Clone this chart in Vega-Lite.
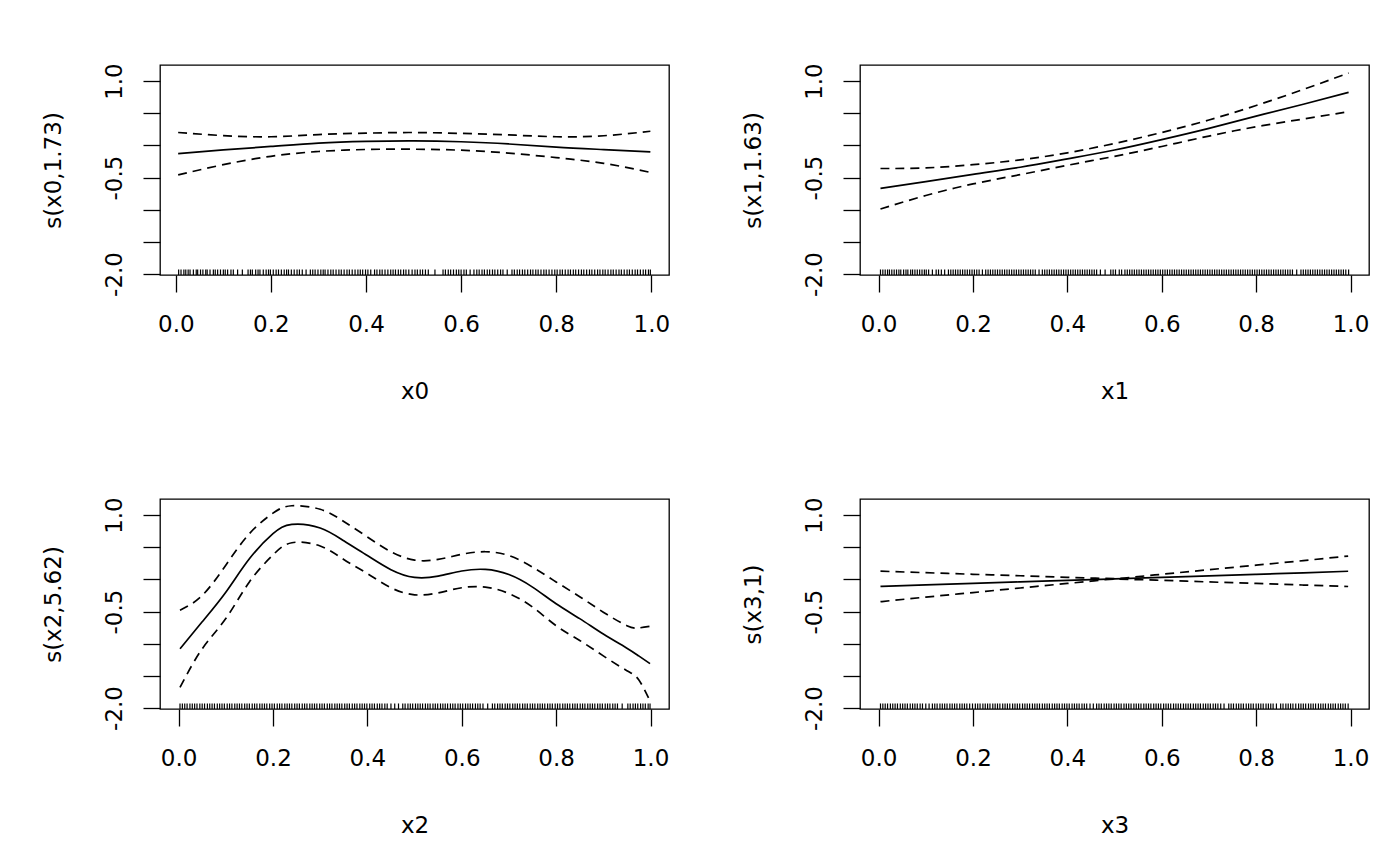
{
  "$schema": "https://vega.github.io/schema/vega-lite/v6.json",
  "background": "white",
  "padding": {"left": 41, "top": 62, "right": 10, "bottom": 10},
  "datasets": {
    "c0": [
      {"x": 0.005, "fit": -0.127, "up": 0.2, "lo": -0.46},
      {"x": 0.1, "fit": -0.07, "up": 0.152, "lo": -0.3},
      {"x": 0.2, "fit": -0.017, "up": 0.134, "lo": -0.17},
      {"x": 0.3, "fit": 0.035, "up": 0.168, "lo": -0.095},
      {"x": 0.4, "fit": 0.062, "up": 0.19, "lo": -0.064},
      {"x": 0.5, "fit": 0.07, "up": 0.2, "lo": -0.06},
      {"x": 0.6, "fit": 0.056, "up": 0.186, "lo": -0.075},
      {"x": 0.7, "fit": 0.022, "up": 0.163, "lo": -0.12},
      {"x": 0.8, "fit": -0.028, "up": 0.134, "lo": -0.19},
      {"x": 0.9, "fit": -0.065, "up": 0.15, "lo": -0.28},
      {"x": 0.998, "fit": -0.1, "up": 0.22, "lo": -0.42}
    ],
    "c1": [
      {"x": 0.004, "fit": -0.67, "up": -0.36, "lo": -0.99},
      {"x": 0.1, "fit": -0.565, "up": -0.35, "lo": -0.78},
      {"x": 0.2, "fit": -0.45, "up": -0.3, "lo": -0.6},
      {"x": 0.3, "fit": -0.34, "up": -0.226, "lo": -0.455},
      {"x": 0.4, "fit": -0.21, "up": -0.116, "lo": -0.31},
      {"x": 0.5, "fit": -0.072, "up": 0.03, "lo": -0.17},
      {"x": 0.6, "fit": 0.09, "up": 0.2, "lo": -0.017},
      {"x": 0.7, "fit": 0.265, "up": 0.395, "lo": 0.145},
      {"x": 0.8, "fit": 0.455, "up": 0.62, "lo": 0.29},
      {"x": 0.9, "fit": 0.64, "up": 0.87, "lo": 0.41},
      {"x": 0.996, "fit": 0.825, "up": 1.125, "lo": 0.525}
    ],
    "c2": [
      {"x": 0.003, "fit": -1.08, "up": -0.48, "lo": -1.68},
      {"x": 0.05, "fit": -0.66, "up": -0.25, "lo": -1.08},
      {"x": 0.1, "fit": -0.2, "up": 0.22, "lo": -0.61},
      {"x": 0.15, "fit": 0.32, "up": 0.71, "lo": -0.04},
      {"x": 0.2, "fit": 0.71, "up": 1.03, "lo": 0.38},
      {"x": 0.24, "fit": 0.855, "up": 1.145, "lo": 0.57},
      {"x": 0.3, "fit": 0.8, "up": 1.09, "lo": 0.52},
      {"x": 0.35, "fit": 0.6, "up": 0.9, "lo": 0.31},
      {"x": 0.4, "fit": 0.37, "up": 0.66, "lo": 0.09},
      {"x": 0.45, "fit": 0.15, "up": 0.43, "lo": -0.13},
      {"x": 0.5, "fit": 0.03, "up": 0.3, "lo": -0.24},
      {"x": 0.55, "fit": 0.05, "up": 0.31, "lo": -0.21},
      {"x": 0.6, "fit": 0.13, "up": 0.39, "lo": -0.13},
      {"x": 0.65, "fit": 0.155, "up": 0.43, "lo": -0.12},
      {"x": 0.7, "fit": 0.075, "up": 0.37, "lo": -0.22},
      {"x": 0.75, "fit": -0.12, "up": 0.19, "lo": -0.43},
      {"x": 0.8, "fit": -0.38, "up": -0.04, "lo": -0.72},
      {"x": 0.85, "fit": -0.61, "up": -0.27, "lo": -0.95},
      {"x": 0.9, "fit": -0.85, "up": -0.51, "lo": -1.19},
      {"x": 0.95, "fit": -1.07, "up": -0.72, "lo": -1.42},
      {"x": 0.975, "fit": -1.19, "up": -0.755, "lo": -1.56},
      {"x": 0.999, "fit": -1.31, "up": -0.73, "lo": -1.89}
    ],
    "c3": [
      {"x": 0.004, "fit": -0.11, "up": 0.127, "lo": -0.347},
      {"x": 0.1, "fit": -0.086, "up": 0.104, "lo": -0.276},
      {"x": 0.2, "fit": -0.063, "up": 0.079, "lo": -0.205},
      {"x": 0.3, "fit": -0.039, "up": 0.056, "lo": -0.134},
      {"x": 0.4, "fit": -0.016, "up": 0.031, "lo": -0.063},
      {"x": 0.45, "fit": -0.004, "up": 0.02, "lo": -0.028},
      {"x": 0.5, "fit": 0.008, "up": 0.013, "lo": 0.003},
      {"x": 0.55, "fit": 0.02, "up": 0.044, "lo": -0.004},
      {"x": 0.6, "fit": 0.032, "up": 0.079, "lo": -0.015},
      {"x": 0.7, "fit": 0.055, "up": 0.15, "lo": -0.04},
      {"x": 0.8, "fit": 0.079, "up": 0.221, "lo": -0.063},
      {"x": 0.9, "fit": 0.102, "up": 0.292, "lo": -0.088},
      {"x": 0.995, "fit": 0.126, "up": 0.363, "lo": -0.111}
    ],
    "r0": [
      {"x":0.006},{"x":0.011},{"x":0.017},{"x":0.021},{"x":0.026},{"x":0.03},{"x":0.037},{"x":0.043},{"x":0.046},{"x":0.052},{"x":0.057},{"x":0.063},{"x":0.066},{"x":0.072},{"x":0.079},{"x":0.083},{"x":0.088},{"x":0.094},{"x":0.1},{"x":0.104},{"x":0.109},{"x":0.116},{"x":0.121},{"x":0.13},{"x":0.14},{"x":0.152},{"x":0.157},{"x":0.161},{"x":0.168},{"x":0.173},{"x":0.177},{"x":0.184},{"x":0.19},{"x":0.195},{"x":0.199},{"x":0.205},{"x":0.211},{"x":0.216},{"x":0.222},{"x":0.228},{"x":0.233},{"x":0.237},{"x":0.243},{"x":0.249},{"x":0.255},{"x":0.26},{"x":0.266},{"x":0.274},{"x":0.283},{"x":0.288},{"x":0.293},{"x":0.299},{"x":0.305},{"x":0.31},{"x":0.314},{"x":0.32},{"x":0.326},{"x":0.331},{"x":0.337},{"x":0.343},{"x":0.348},{"x":0.354},{"x":0.36},{"x":0.365},{"x":0.371},{"x":0.377},{"x":0.383},{"x":0.388},{"x":0.393},{"x":0.399},{"x":0.404},{"x":0.41},{"x":0.418},{"x":0.423},{"x":0.429},{"x":0.434},{"x":0.44},{"x":0.446},{"x":0.452},{"x":0.457},{"x":0.462},{"x":0.468},{"x":0.473},{"x":0.479},{"x":0.484},{"x":0.49},{"x":0.497},{"x":0.503},{"x":0.508},{"x":0.514},{"x":0.519},{"x":0.525},{"x":0.531},{"x":0.545},{"x":0.562},{"x":0.567},{"x":0.573},{"x":0.578},{"x":0.584},{"x":0.59},{"x":0.595},{"x":0.6},{"x":0.606},{"x":0.611},{"x":0.619},{"x":0.627},{"x":0.633},{"x":0.638},{"x":0.644},{"x":0.649},{"x":0.655},{"x":0.66},{"x":0.666},{"x":0.671},{"x":0.677},{"x":0.683},{"x":0.688},{"x":0.697},{"x":0.707},{"x":0.712},{"x":0.718},{"x":0.723},{"x":0.729},{"x":0.734},{"x":0.74},{"x":0.746},{"x":0.751},{"x":0.757},{"x":0.762},{"x":0.768},{"x":0.774},{"x":0.779},{"x":0.785},{"x":0.791},{"x":0.797},{"x":0.802},{"x":0.808},{"x":0.813},{"x":0.819},{"x":0.825},{"x":0.83},{"x":0.836},{"x":0.841},{"x":0.847},{"x":0.853},{"x":0.858},{"x":0.864},{"x":0.87},{"x":0.875},{"x":0.881},{"x":0.887},{"x":0.892},{"x":0.898},{"x":0.903},{"x":0.909},{"x":0.915},{"x":0.92},{"x":0.926},{"x":0.932},{"x":0.937},{"x":0.943},{"x":0.949},{"x":0.954},{"x":0.96},{"x":0.966},{"x":0.971},{"x":0.977},{"x":0.983},{"x":0.988},{"x":0.994},{"x":0.998}
    ],
    "r1": [
      {"x":0.004},{"x":0.009},{"x":0.014},{"x":0.019},{"x":0.023},{"x":0.028},{"x":0.033},{"x":0.038},{"x":0.043},{"x":0.047},{"x":0.053},{"x":0.058},{"x":0.062},{"x":0.068},{"x":0.072},{"x":0.077},{"x":0.082},{"x":0.087},{"x":0.092},{"x":0.097},{"x":0.101},{"x":0.106},{"x":0.114},{"x":0.122},{"x":0.127},{"x":0.133},{"x":0.14},{"x":0.148},{"x":0.153},{"x":0.158},{"x":0.163},{"x":0.168},{"x":0.173},{"x":0.178},{"x":0.183},{"x":0.188},{"x":0.193},{"x":0.198},{"x":0.203},{"x":0.208},{"x":0.213},{"x":0.22},{"x":0.227},{"x":0.232},{"x":0.237},{"x":0.242},{"x":0.247},{"x":0.252},{"x":0.257},{"x":0.262},{"x":0.267},{"x":0.272},{"x":0.277},{"x":0.282},{"x":0.287},{"x":0.292},{"x":0.297},{"x":0.302},{"x":0.307},{"x":0.312},{"x":0.317},{"x":0.322},{"x":0.327},{"x":0.332},{"x":0.34},{"x":0.347},{"x":0.352},{"x":0.357},{"x":0.362},{"x":0.367},{"x":0.372},{"x":0.377},{"x":0.382},{"x":0.387},{"x":0.392},{"x":0.397},{"x":0.402},{"x":0.407},{"x":0.412},{"x":0.417},{"x":0.422},{"x":0.427},{"x":0.432},{"x":0.437},{"x":0.442},{"x":0.447},{"x":0.452},{"x":0.457},{"x":0.462},{"x":0.47},{"x":0.48},{"x":0.492},{"x":0.497},{"x":0.502},{"x":0.51},{"x":0.515},{"x":0.522},{"x":0.527},{"x":0.532},{"x":0.537},{"x":0.542},{"x":0.547},{"x":0.552},{"x":0.557},{"x":0.562},{"x":0.567},{"x":0.572},{"x":0.577},{"x":0.582},{"x":0.587},{"x":0.592},{"x":0.597},{"x":0.602},{"x":0.607},{"x":0.612},{"x":0.617},{"x":0.622},{"x":0.627},{"x":0.632},{"x":0.637},{"x":0.642},{"x":0.647},{"x":0.652},{"x":0.657},{"x":0.662},{"x":0.667},{"x":0.672},{"x":0.677},{"x":0.682},{"x":0.687},{"x":0.692},{"x":0.697},{"x":0.702},{"x":0.707},{"x":0.712},{"x":0.717},{"x":0.722},{"x":0.727},{"x":0.732},{"x":0.737},{"x":0.742},{"x":0.747},{"x":0.752},{"x":0.757},{"x":0.762},{"x":0.767},{"x":0.772},{"x":0.777},{"x":0.782},{"x":0.787},{"x":0.792},{"x":0.797},{"x":0.802},{"x":0.807},{"x":0.812},{"x":0.817},{"x":0.822},{"x":0.827},{"x":0.832},{"x":0.837},{"x":0.842},{"x":0.847},{"x":0.852},{"x":0.857},{"x":0.862},{"x":0.867},{"x":0.872},{"x":0.877},{"x":0.886},{"x":0.895},{"x":0.9},{"x":0.905},{"x":0.91},{"x":0.915},{"x":0.92},{"x":0.925},{"x":0.93},{"x":0.935},{"x":0.94},{"x":0.945},{"x":0.95},{"x":0.955},{"x":0.96},{"x":0.965},{"x":0.97},{"x":0.975},{"x":0.98},{"x":0.985},{"x":0.99},{"x":0.996}
    ],
    "r2": [
      {"x":0.003},{"x":0.008},{"x":0.013},{"x":0.018},{"x":0.024},{"x":0.029},{"x":0.034},{"x":0.039},{"x":0.045},{"x":0.05},{"x":0.055},{"x":0.061},{"x":0.066},{"x":0.071},{"x":0.076},{"x":0.082},{"x":0.087},{"x":0.092},{"x":0.097},{"x":0.103},{"x":0.108},{"x":0.113},{"x":0.119},{"x":0.124},{"x":0.129},{"x":0.134},{"x":0.14},{"x":0.145},{"x":0.15},{"x":0.156},{"x":0.161},{"x":0.166},{"x":0.172},{"x":0.177},{"x":0.182},{"x":0.187},{"x":0.193},{"x":0.198},{"x":0.203},{"x":0.209},{"x":0.214},{"x":0.219},{"x":0.225},{"x":0.23},{"x":0.235},{"x":0.24},{"x":0.246},{"x":0.251},{"x":0.256},{"x":0.262},{"x":0.267},{"x":0.272},{"x":0.278},{"x":0.283},{"x":0.288},{"x":0.293},{"x":0.299},{"x":0.304},{"x":0.309},{"x":0.315},{"x":0.32},{"x":0.325},{"x":0.331},{"x":0.336},{"x":0.341},{"x":0.346},{"x":0.352},{"x":0.357},{"x":0.362},{"x":0.368},{"x":0.373},{"x":0.378},{"x":0.384},{"x":0.389},{"x":0.394},{"x":0.399},{"x":0.405},{"x":0.41},{"x":0.415},{"x":0.421},{"x":0.426},{"x":0.431},{"x":0.437},{"x":0.442},{"x":0.45},{"x":0.458},{"x":0.466},{"x":0.475},{"x":0.48},{"x":0.486},{"x":0.491},{"x":0.496},{"x":0.502},{"x":0.507},{"x":0.512},{"x":0.517},{"x":0.523},{"x":0.528},{"x":0.533},{"x":0.539},{"x":0.544},{"x":0.549},{"x":0.555},{"x":0.56},{"x":0.565},{"x":0.57},{"x":0.576},{"x":0.581},{"x":0.586},{"x":0.592},{"x":0.597},{"x":0.602},{"x":0.608},{"x":0.613},{"x":0.618},{"x":0.623},{"x":0.629},{"x":0.634},{"x":0.639},{"x":0.645},{"x":0.655},{"x":0.665},{"x":0.67},{"x":0.676},{"x":0.681},{"x":0.686},{"x":0.692},{"x":0.697},{"x":0.702},{"x":0.708},{"x":0.713},{"x":0.718},{"x":0.723},{"x":0.729},{"x":0.734},{"x":0.739},{"x":0.745},{"x":0.75},{"x":0.755},{"x":0.761},{"x":0.766},{"x":0.771},{"x":0.776},{"x":0.782},{"x":0.787},{"x":0.792},{"x":0.798},{"x":0.803},{"x":0.808},{"x":0.814},{"x":0.819},{"x":0.824},{"x":0.829},{"x":0.835},{"x":0.84},{"x":0.845},{"x":0.851},{"x":0.856},{"x":0.861},{"x":0.867},{"x":0.872},{"x":0.877},{"x":0.882},{"x":0.888},{"x":0.893},{"x":0.898},{"x":0.904},{"x":0.909},{"x":0.914},{"x":0.92},{"x":0.925},{"x":0.93},{"x":0.94},{"x":0.952},{"x":0.957},{"x":0.963},{"x":0.968},{"x":0.973},{"x":0.979},{"x":0.984},{"x":0.989},{"x":0.995},{"x":0.999}
    ],
    "r3": [
      {"x":0.004},{"x":0.009},{"x":0.014},{"x":0.019},{"x":0.025},{"x":0.03},{"x":0.035},{"x":0.04},{"x":0.046},{"x":0.051},{"x":0.056},{"x":0.061},{"x":0.067},{"x":0.072},{"x":0.077},{"x":0.082},{"x":0.088},{"x":0.093},{"x":0.1},{"x":0.107},{"x":0.114},{"x":0.119},{"x":0.124},{"x":0.13},{"x":0.135},{"x":0.14},{"x":0.145},{"x":0.151},{"x":0.156},{"x":0.161},{"x":0.166},{"x":0.172},{"x":0.177},{"x":0.182},{"x":0.187},{"x":0.193},{"x":0.199},{"x":0.205},{"x":0.21},{"x":0.215},{"x":0.221},{"x":0.226},{"x":0.231},{"x":0.236},{"x":0.242},{"x":0.247},{"x":0.252},{"x":0.257},{"x":0.263},{"x":0.268},{"x":0.273},{"x":0.278},{"x":0.284},{"x":0.289},{"x":0.294},{"x":0.299},{"x":0.305},{"x":0.31},{"x":0.315},{"x":0.32},{"x":0.326},{"x":0.331},{"x":0.336},{"x":0.341},{"x":0.347},{"x":0.352},{"x":0.357},{"x":0.362},{"x":0.368},{"x":0.373},{"x":0.378},{"x":0.383},{"x":0.389},{"x":0.394},{"x":0.399},{"x":0.404},{"x":0.41},{"x":0.415},{"x":0.42},{"x":0.425},{"x":0.431},{"x":0.436},{"x":0.441},{"x":0.448},{"x":0.455},{"x":0.462},{"x":0.467},{"x":0.472},{"x":0.478},{"x":0.483},{"x":0.488},{"x":0.493},{"x":0.499},{"x":0.504},{"x":0.509},{"x":0.514},{"x":0.52},{"x":0.525},{"x":0.53},{"x":0.535},{"x":0.541},{"x":0.546},{"x":0.551},{"x":0.556},{"x":0.562},{"x":0.567},{"x":0.572},{"x":0.577},{"x":0.583},{"x":0.588},{"x":0.593},{"x":0.598},{"x":0.604},{"x":0.609},{"x":0.614},{"x":0.619},{"x":0.625},{"x":0.63},{"x":0.635},{"x":0.64},{"x":0.646},{"x":0.651},{"x":0.656},{"x":0.661},{"x":0.667},{"x":0.672},{"x":0.677},{"x":0.682},{"x":0.688},{"x":0.693},{"x":0.698},{"x":0.703},{"x":0.709},{"x":0.714},{"x":0.719},{"x":0.725},{"x":0.732},{"x":0.742},{"x":0.747},{"x":0.752},{"x":0.758},{"x":0.763},{"x":0.768},{"x":0.773},{"x":0.779},{"x":0.784},{"x":0.789},{"x":0.794},{"x":0.8},{"x":0.805},{"x":0.81},{"x":0.815},{"x":0.821},{"x":0.826},{"x":0.831},{"x":0.836},{"x":0.843},{"x":0.852},{"x":0.857},{"x":0.863},{"x":0.868},{"x":0.873},{"x":0.878},{"x":0.884},{"x":0.89},{"x":0.895},{"x":0.9},{"x":0.905},{"x":0.911},{"x":0.916},{"x":0.921},{"x":0.926},{"x":0.932},{"x":0.937},{"x":0.942},{"x":0.947},{"x":0.953},{"x":0.958},{"x":0.963},{"x":0.968},{"x":0.974},{"x":0.979},{"x":0.984},{"x":0.989},{"x":0.995}
    ]
  },
  "columns": 2,
  "spacing": {"row": 224, "column": 191},
  "bounds": "flush",
  "concat": [
    {
      "width": 509,
      "height": 210,
      "encoding": {
        "x": {"field": "x", "type": "quantitative", "title": "x0",
          "scale": {"domain": [-0.0332, 1.0372], "nice": false, "zero": false},
          "axis": {"values": [0, 0.2, 0.4, 0.6, 0.8, 1], "format": ".1f"}}
      },
      "layer": [
        {"data": {"name": "c0"},
          "mark": {"type": "line", "interpolate": "natural", "color": "black", "strokeWidth": 1.7},
          "encoding": {"y": {"field": "fit", "type": "quantitative", "title": "s(x0,1.73)",
            "scale": {"domain": [-2.016, 1.25], "nice": false, "zero": false},
            "axis": {"values": [-2, -1.5, -1, -0.5, 0, 0.5, 1], "labelExpr": "datum.value == 1 ? '1.0' : datum.value == -0.5 ? '-0.5' : datum.value == -2 ? '-2.0' : ''"}}}},
        {"data": {"name": "c0"},
          "mark": {"type": "line", "interpolate": "natural", "color": "black", "strokeWidth": 1.7, "strokeDash": [9, 6]},
          "encoding": {"y": {"field": "up", "type": "quantitative", "title": "s(x0,1.73)",
            "axis": {"values": [-2, -1.5, -1, -0.5, 0, 0.5, 1], "labelExpr": "datum.value == 1 ? '1.0' : datum.value == -0.5 ? '-0.5' : datum.value == -2 ? '-2.0' : ''"}}}},
        {"data": {"name": "c0"},
          "mark": {"type": "line", "interpolate": "natural", "color": "black", "strokeWidth": 1.7, "strokeDash": [9, 6]},
          "encoding": {"y": {"field": "lo", "type": "quantitative", "title": "s(x0,1.73)",
            "axis": {"values": [-2, -1.5, -1, -0.5, 0, 0.5, 1], "labelExpr": "datum.value == 1 ? '1.0' : datum.value == -0.5 ? '-0.5' : datum.value == -2 ? '-2.0' : ''"}}}},
        {"data": {"name": "r0"},
          "mark": {"type": "rule", "color": "black", "strokeWidth": 1.2},
          "encoding": {"y": {"datum": -2.016, "title": "s(x0,1.73)",
            "axis": {"values": [-2, -1.5, -1, -0.5, 0, 0.5, 1], "labelExpr": "datum.value == 1 ? '1.0' : datum.value == -0.5 ? '-0.5' : datum.value == -2 ? '-2.0' : ''"}},
            "y2": {"datum": -1.93}}}
      ]
    },
    {
      "width": 509,
      "height": 210,
      "encoding": {
        "x": {"field": "x", "type": "quantitative", "title": "x1",
          "scale": {"domain": [-0.0394, 1.0392], "nice": false, "zero": false},
          "axis": {"values": [0, 0.2, 0.4, 0.6, 0.8, 1], "format": ".1f"}}
      },
      "layer": [
        {"data": {"name": "c1"},
          "mark": {"type": "line", "interpolate": "natural", "color": "black", "strokeWidth": 1.7},
          "encoding": {"y": {"field": "fit", "type": "quantitative", "title": "s(x1,1.63)",
            "scale": {"domain": [-2.016, 1.25], "nice": false, "zero": false},
            "axis": {"values": [-2, -1.5, -1, -0.5, 0, 0.5, 1], "labelExpr": "datum.value == 1 ? '1.0' : datum.value == -0.5 ? '-0.5' : datum.value == -2 ? '-2.0' : ''"}}}},
        {"data": {"name": "c1"},
          "mark": {"type": "line", "interpolate": "natural", "color": "black", "strokeWidth": 1.7, "strokeDash": [9, 6]},
          "encoding": {"y": {"field": "up", "type": "quantitative", "title": "s(x1,1.63)",
            "axis": {"values": [-2, -1.5, -1, -0.5, 0, 0.5, 1], "labelExpr": "datum.value == 1 ? '1.0' : datum.value == -0.5 ? '-0.5' : datum.value == -2 ? '-2.0' : ''"}}}},
        {"data": {"name": "c1"},
          "mark": {"type": "line", "interpolate": "natural", "color": "black", "strokeWidth": 1.7, "strokeDash": [9, 6]},
          "encoding": {"y": {"field": "lo", "type": "quantitative", "title": "s(x1,1.63)",
            "axis": {"values": [-2, -1.5, -1, -0.5, 0, 0.5, 1], "labelExpr": "datum.value == 1 ? '1.0' : datum.value == -0.5 ? '-0.5' : datum.value == -2 ? '-2.0' : ''"}}}},
        {"data": {"name": "r1"},
          "mark": {"type": "rule", "color": "black", "strokeWidth": 1.2},
          "encoding": {"y": {"datum": -2.016, "title": "s(x1,1.63)",
            "axis": {"values": [-2, -1.5, -1, -0.5, 0, 0.5, 1], "labelExpr": "datum.value == 1 ? '1.0' : datum.value == -0.5 ? '-0.5' : datum.value == -2 ? '-2.0' : ''"}},
            "y2": {"datum": -1.93}}}
      ]
    },
    {
      "width": 509,
      "height": 210,
      "encoding": {
        "x": {"field": "x", "type": "quantitative", "title": "x2",
          "scale": {"domain": [-0.0394, 1.0392], "nice": false, "zero": false},
          "axis": {"values": [0, 0.2, 0.4, 0.6, 0.8, 1], "format": ".1f"}}
      },
      "layer": [
        {"data": {"name": "c2"},
          "mark": {"type": "line", "interpolate": "natural", "color": "black", "strokeWidth": 1.7},
          "encoding": {"y": {"field": "fit", "type": "quantitative", "title": "s(x2,5.62)",
            "scale": {"domain": [-2.016, 1.25], "nice": false, "zero": false},
            "axis": {"values": [-2, -1.5, -1, -0.5, 0, 0.5, 1], "labelExpr": "datum.value == 1 ? '1.0' : datum.value == -0.5 ? '-0.5' : datum.value == -2 ? '-2.0' : ''"}}}},
        {"data": {"name": "c2"},
          "mark": {"type": "line", "interpolate": "natural", "color": "black", "strokeWidth": 1.7, "strokeDash": [9, 6]},
          "encoding": {"y": {"field": "up", "type": "quantitative", "title": "s(x2,5.62)",
            "axis": {"values": [-2, -1.5, -1, -0.5, 0, 0.5, 1], "labelExpr": "datum.value == 1 ? '1.0' : datum.value == -0.5 ? '-0.5' : datum.value == -2 ? '-2.0' : ''"}}}},
        {"data": {"name": "c2"},
          "mark": {"type": "line", "interpolate": "natural", "color": "black", "strokeWidth": 1.7, "strokeDash": [9, 6]},
          "encoding": {"y": {"field": "lo", "type": "quantitative", "title": "s(x2,5.62)",
            "axis": {"values": [-2, -1.5, -1, -0.5, 0, 0.5, 1], "labelExpr": "datum.value == 1 ? '1.0' : datum.value == -0.5 ? '-0.5' : datum.value == -2 ? '-2.0' : ''"}}}},
        {"data": {"name": "r2"},
          "mark": {"type": "rule", "color": "black", "strokeWidth": 1.2},
          "encoding": {"y": {"datum": -2.016, "title": "s(x2,5.62)",
            "axis": {"values": [-2, -1.5, -1, -0.5, 0, 0.5, 1], "labelExpr": "datum.value == 1 ? '1.0' : datum.value == -0.5 ? '-0.5' : datum.value == -2 ? '-2.0' : ''"}},
            "y2": {"datum": -1.93}}}
      ]
    },
    {
      "width": 509,
      "height": 210,
      "encoding": {
        "x": {"field": "x", "type": "quantitative", "title": "x3",
          "scale": {"domain": [-0.0394, 1.0392], "nice": false, "zero": false},
          "axis": {"values": [0, 0.2, 0.4, 0.6, 0.8, 1], "format": ".1f"}}
      },
      "layer": [
        {"data": {"name": "c3"},
          "mark": {"type": "line", "interpolate": "monotone", "color": "black", "strokeWidth": 1.7},
          "encoding": {"y": {"field": "fit", "type": "quantitative", "title": "s(x3,1)",
            "scale": {"domain": [-2.016, 1.25], "nice": false, "zero": false},
            "axis": {"values": [-2, -1.5, -1, -0.5, 0, 0.5, 1], "labelExpr": "datum.value == 1 ? '1.0' : datum.value == -0.5 ? '-0.5' : datum.value == -2 ? '-2.0' : ''"}}}},
        {"data": {"name": "c3"},
          "mark": {"type": "line", "interpolate": "monotone", "color": "black", "strokeWidth": 1.7, "strokeDash": [9, 6]},
          "encoding": {"y": {"field": "up", "type": "quantitative", "title": "s(x3,1)",
            "axis": {"values": [-2, -1.5, -1, -0.5, 0, 0.5, 1], "labelExpr": "datum.value == 1 ? '1.0' : datum.value == -0.5 ? '-0.5' : datum.value == -2 ? '-2.0' : ''"}}}},
        {"data": {"name": "c3"},
          "mark": {"type": "line", "interpolate": "monotone", "color": "black", "strokeWidth": 1.7, "strokeDash": [9, 6]},
          "encoding": {"y": {"field": "lo", "type": "quantitative", "title": "s(x3,1)",
            "axis": {"values": [-2, -1.5, -1, -0.5, 0, 0.5, 1], "labelExpr": "datum.value == 1 ? '1.0' : datum.value == -0.5 ? '-0.5' : datum.value == -2 ? '-2.0' : ''"}}}},
        {"data": {"name": "r3"},
          "mark": {"type": "rule", "color": "black", "strokeWidth": 1.2},
          "encoding": {"y": {"datum": -2.016, "title": "s(x3,1)",
            "axis": {"values": [-2, -1.5, -1, -0.5, 0, 0.5, 1], "labelExpr": "datum.value == 1 ? '1.0' : datum.value == -0.5 ? '-0.5' : datum.value == -2 ? '-2.0' : ''"}},
            "y2": {"datum": -1.93}}}
      ]
    }
  ],
  "config": {
    "font": "DejaVu Sans",
    "view": {"stroke": "black", "strokeWidth": 1.3},
    "axis": {
      "grid": false,
      "domain": false,
      "tickColor": "black",
      "tickWidth": 1.3,
      "tickSize": 17,
      "labelColor": "black",
      "titleColor": "black",
      "labelFont": "DejaVu Sans",
      "titleFont": "DejaVu Sans",
      "labelFontSize": 23,
      "titleFontSize": 23,
      "titleFontWeight": "normal",
      "labelOverlap": false,
      "labelFlush": false
    },
    "axisX": {"labelAngle": 0, "labelPadding": 21, "titlePadding": 44},
    "axisY": {"labelAngle": 270, "labelAlign": "center", "labelBaseline": "bottom", "labelPadding": 17, "titlePadding": 38}
  }
}
